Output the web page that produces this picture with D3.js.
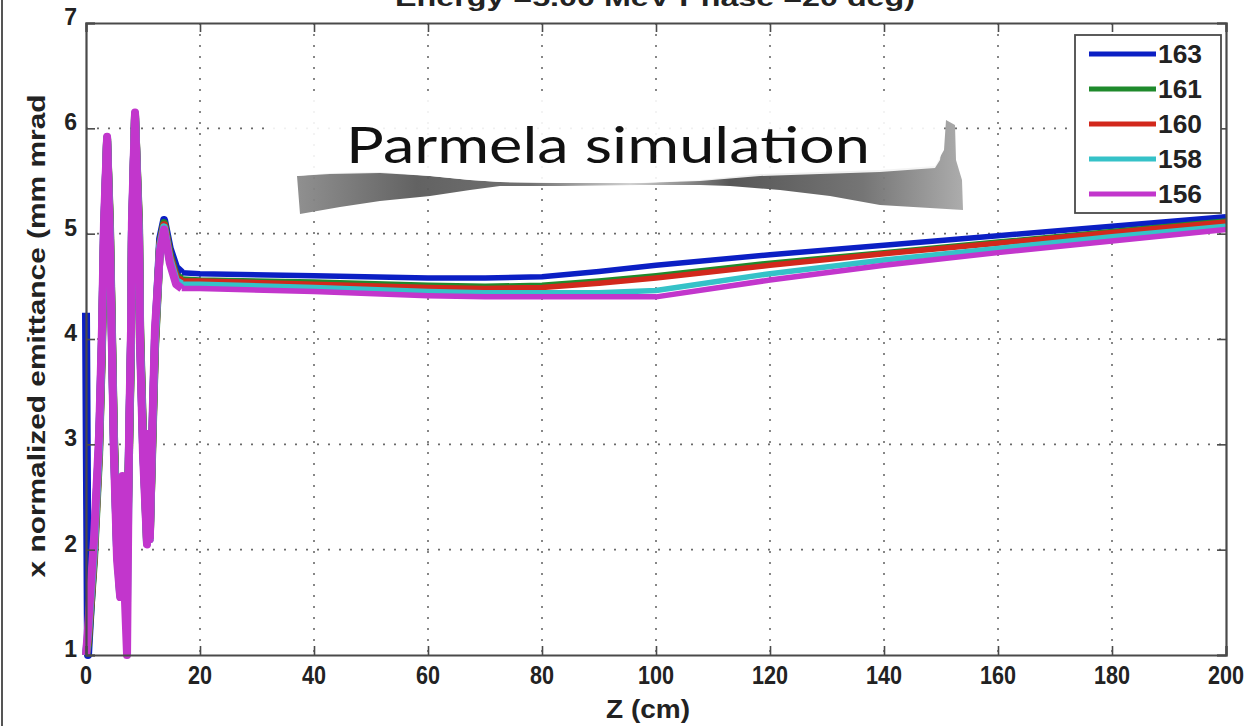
<!DOCTYPE html>
<html>
<head>
<meta charset="utf-8">
<script src="https://cdn.jsdelivr.net/npm/d3@7"></script>
<style>
  body { margin: 0; background: #fff; }
  svg { display: block; }
  .tick-lbl { font-family: "Liberation Sans Narrow", "Liberation Sans", sans-serif; font-weight: bold; fill: #222; }
</style>
</head>
<body>
<div id="chart"></div>
<script>
// Chart setup
var svgWidth = 1249;
var svgHeight = 726;

var margin = { top: 23, right: 23, bottom: 71, left: 86 };
var width = svgWidth - margin.left - margin.right;
var height = svgHeight - margin.top - margin.bottom;

// Data
var seriesNames = ["163", "161", "160", "158", "156"];
var seriesColors = ["#0b1fc4", "#1f8a2c", "#d2281c", "#35c2c8", "#c236cc"];

var xTicks = [0, 20, 40, 60, 80, 100, 120, 140, 160, 180, 200];
var yTicks = [1, 2, 3, 4, 5, 6, 7];

// z positions (cm) of the early oscillation and of the slow tail
var zEarly = [0, 0.35, 1.4, 2.3, 2.8, 3.15, 3.7, 4.2, 4.55, 4.9, 5.45, 6.0, 6.4, 6.85, 7.2, 7.55, 7.9, 8.05, 8.6, 9.3, 9.5, 10.0, 10.7, 10.95, 11.2, 11.6, 12.1, 13.0, 13.7, 14.7, 15.8, 16.8];
var zTail = [16.8, 20, 40, 60, 70, 80, 90, 100, 120, 140, 160, 180, 200];

var early163 = [4.25, 1.0, 2.0, 3.0, 4.0, 5.0, 5.88, 5.0, 4.0, 3.0, 2.0, 1.62, 2.6, 1.6, 2.0, 3.0, 4.0, 5.0, 6.1, 5.0, 4.0, 3.0, 2.15, 3.0, 2.2, 3.0, 4.0, 4.95, 5.13, 4.86, 4.68, 4.63];
var early161 = [1.0, 1.1, 1.9, 2.9, 3.9, 4.9, 5.9, 5.1, 4.1, 3.1, 2.1, 1.6, 2.5, 1.58, 1.9, 2.9, 3.9, 4.9, 6.12, 5.1, 4.1, 3.1, 2.1, 2.9, 2.15, 2.9, 3.9, 4.9, 5.1, 4.8, 4.6, 4.57];
var early160 = [1.0, 1.15, 1.95, 2.95, 3.95, 4.95, 5.9, 5.05, 4.05, 3.05, 2.05, 1.58, 2.4, 1.56, 1.95, 2.95, 3.95, 4.95, 6.13, 5.05, 4.05, 3.05, 2.08, 2.8, 2.12, 2.95, 3.95, 4.9, 5.08, 4.78, 4.58, 4.55];
var early158 = [1.0, 1.2, 2.0, 3.0, 4.0, 5.0, 5.91, 5.0, 4.0, 3.0, 2.0, 1.56, 2.3, 1.54, 1.5, 3.0, 4.0, 5.0, 6.14, 5.0, 4.0, 3.0, 2.06, 2.9, 2.1, 3.0, 4.0, 4.88, 5.06, 4.75, 4.55, 4.52];
var early156 = [1.0, 1.25, 2.1, 3.1, 4.1, 5.1, 5.92, 4.9, 3.9, 2.9, 1.9, 1.55, 2.7, 1.5, 1.0, 3.1, 4.1, 5.1, 6.15, 4.9, 3.9, 2.9, 2.05, 3.1, 2.1, 3.1, 4.1, 4.85, 5.04, 4.72, 4.52, 4.48];

var tail163 = [4.63, 4.62, 4.60, 4.58, 4.58, 4.59, 4.64, 4.70, 4.80, 4.89, 4.98, 5.07, 5.16];
var tail161 = [4.57, 4.56, 4.54, 4.51, 4.50, 4.51, 4.55, 4.60, 4.72, 4.82, 4.92, 5.02, 5.12];
var tail160 = [4.55, 4.55, 4.52, 4.49, 4.48, 4.49, 4.53, 4.58, 4.70, 4.81, 4.91, 5.01, 5.11];
var tail158 = [4.52, 4.52, 4.49, 4.45, 4.44, 4.44, 4.44, 4.46, 4.62, 4.75, 4.86, 4.97, 5.07];
var tail156 = [4.48, 4.48, 4.45, 4.41, 4.40, 4.40, 4.40, 4.40, 4.56, 4.70, 4.82, 4.93, 5.04];

var earlyValues = [early163, early161, early160, early158, early156];
var tailValues = [tail163, tail161, tail160, tail158, tail156];

var titleText = "Energy =5.00 MeV    Phase =20 deg)";

// Build the series table
var series = seriesNames.map(function(name, i) {
    return {
        name: name,
        color: seriesColors[i],
        early: zEarly.map(function(z, j) { return { z: z, v: earlyValues[i][j] }; }),
        tail: zTail.map(function(z, j) { return { z: z, v: tailValues[i][j] }; })
    };
});

var svg = d3.select("#chart")
    .append("svg")
    .attr("width", svgWidth)
    .attr("height", svgHeight);

// outer frame line on the left edge of the slide
svg.append("line")
    .attr("x1", 2).attr("x2", 2).attr("y1", 0).attr("y2", svgHeight)
    .attr("stroke", "#555").attr("stroke-width", 2);

// cut-off title
svg.append("text")
    .attr("x", 655).attr("y", 6)
    .attr("text-anchor", "middle")
    .attr("textLength", 520).attr("lengthAdjust", "spacingAndGlyphs")
    .attr("class", "tick-lbl")
    .style("font-size", "24px")
    .text(titleText);

var chartGroup = svg.append("g")
    .attr("transform", `translate(${margin.left}, ${margin.top})`);

var xScale = d3.scaleLinear().domain([0, 200]).range([0, width]);
var yScale = d3.scaleLinear().domain([1, 7]).range([height, 0]);

// plot background
chartGroup.append("rect")
    .attr("width", width).attr("height", height)
    .attr("fill", "#fff");

// dotted grid
chartGroup.append("g").selectAll("line")
    .data(xTicks.slice(1, -1))
    .enter().append("line")
    .attr("x1", d => xScale(d)).attr("x2", d => xScale(d))
    .attr("y1", 0).attr("y2", height)
    .attr("stroke", "#6a6a6a").attr("stroke-width", 1.6)
    .attr("stroke-dasharray", "2,9");

chartGroup.append("g").selectAll("line")
    .data(yTicks.slice(1, -1))
    .enter().append("line")
    .attr("x1", 0).attr("x2", width)
    .attr("y1", d => yScale(d)).attr("y2", d => yScale(d))
    .attr("stroke", "#6a6a6a").attr("stroke-width", 1.6)
    .attr("stroke-dasharray", "2,9");

// "Parmela simulation" pasted label (torn paper with shadow)
var defs = svg.append("defs");
var grad = defs.append("linearGradient").attr("id", "shadowGrad")
    .attr("x1", "0%").attr("x2", "100%").attr("y1", "0%").attr("y2", "0%");
grad.append("stop").attr("offset", "0%").attr("stop-color", "#8a8a8a");
grad.append("stop").attr("offset", "18%").attr("stop-color", "#5a5a5a");
grad.append("stop").attr("offset", "35%").attr("stop-color", "#6a6a6a");
grad.append("stop").attr("offset", "50%").attr("stop-color", "#cfcfcf");
grad.append("stop").attr("offset", "65%").attr("stop-color", "#4e4e4e");
grad.append("stop").attr("offset", "85%").attr("stop-color", "#6e6e6e");
grad.append("stop").attr("offset", "100%").attr("stop-color", "#a8a8a8");

var pasteG = svg.append("g");
pasteG.append("path")
    .attr("d", "M297,176 L330,173 L380,172 L430,176 L470,180 L500,182 L560,183 L640,183 L700,180 L760,174 L820,172 L880,170 L935,166 L944,150 L946,120 L955,125 L956,160 L962,180 L963,210 L930,208 L880,205 L830,196 L780,190 L730,186 L700,185 L640,185 L560,186 L500,186 L470,190 L430,196 L380,201 L340,207 L300,214 Z")
    .attr("fill", "url(#shadowGrad)")
    .attr("opacity", 0.95);
pasteG.append("path")
    .attr("d", "M268,102 L300,99 L360,97 L420,100 L480,96 L560,99 L640,96 L720,99 L800,96 L880,98 L940,100 L944,130 L940,160 L935,168 L880,172 L820,174 L760,176 L700,181 L640,183 L560,183 L500,182 L470,180 L430,176 L380,173 L330,174 L297,176 L280,168 L272,150 L266,120 Z")
    .attr("fill", "#fff")
    .attr("opacity", 0.9);
pasteG.append("text")
    .attr("x", 346).attr("y", 163)
    .attr("textLength", 524).attr("lengthAdjust", "spacingAndGlyphs")
    .style("font-family", "Lato, 'Open Sans', sans-serif")
    .style("font-size", "50px")
    .attr("fill", "#111")
    .text("Parmela simulation");

// series lines: the early oscillation is drawn as a heavy band
var line = d3.line()
    .x(d => xScale(d.z))
    .y(d => yScale(d.v));

var lines = chartGroup.append("g").selectAll("g")
    .data(series)
    .enter().append("g");

lines.append("path")
    .attr("d", d => line(d.tail))
    .attr("fill", "none")
    .attr("stroke", d => d.color)
    .attr("stroke-width", 5.5)
    .attr("stroke-linejoin", "round");

lines.append("path")
    .attr("d", d => line(d.early))
    .attr("fill", "none")
    .attr("stroke", d => d.color)
    .attr("stroke-width", 8)
    .attr("stroke-linejoin", "round");

// axes box with inward ticks on all sides
var bottomAxis = d3.axisBottom(xScale).tickValues(xTicks).tickSize(-9).tickFormat("");
var topAxis = d3.axisTop(xScale).tickValues(xTicks).tickSize(-9).tickFormat("");
var leftAxis = d3.axisLeft(yScale).tickValues(yTicks).tickSize(-9).tickFormat("");
var rightAxis = d3.axisRight(yScale).tickValues(yTicks).tickSize(-9).tickFormat("");

[
    [bottomAxis, `translate(0, ${height})`],
    [topAxis, "translate(0, 0)"],
    [leftAxis, "translate(0, 0)"],
    [rightAxis, `translate(${width}, 0)`]
].forEach(function(a) {
    var g = chartGroup.append("g").attr("transform", a[1]).call(a[0]);
    g.select(".domain").attr("stroke", "#4a4a4a").attr("stroke-width", 2.2);
    g.selectAll(".tick line").attr("stroke", "#4a4a4a").attr("stroke-width", 1.6);
});

// tick labels (condensed, like the original)
chartGroup.append("g").selectAll("text")
    .data(xTicks)
    .enter().append("text")
    .attr("class", "tick-lbl")
    .attr("x", d => xScale(d))
    .attr("y", height + 29)
    .attr("text-anchor", "middle")
    .attr("textLength", d => String(d).length * 12)
    .attr("lengthAdjust", "spacingAndGlyphs")
    .style("font-size", "25px")
    .text(d => d);

chartGroup.append("g").selectAll("text")
    .data(yTicks)
    .enter().append("text")
    .attr("class", "tick-lbl")
    .attr("x", -9)
    .attr("y", d => yScale(d) + 2)
    .attr("text-anchor", "end")
    .style("font-family", "'Liberation Sans', sans-serif")
    .style("font-size", "23px")
    .text(d => d);

// axis titles
svg.append("text")
    .attr("class", "tick-lbl")
    .attr("x", 648).attr("y", 718)
    .attr("text-anchor", "middle")
    .attr("textLength", 84).attr("lengthAdjust", "spacingAndGlyphs")
    .style("font-size", "26px")
    .text("Z (cm)");

svg.append("text")
    .attr("class", "tick-lbl")
    .attr("transform", "translate(45, 336) rotate(-90)")
    .attr("text-anchor", "middle")
    .attr("textLength", 483).attr("lengthAdjust", "spacingAndGlyphs")
    .style("font-family", "'Liberation Sans', sans-serif")
    .style("font-size", "24px")
    .text("x normalized emittance (mm mrad");

// legend
var legend = svg.append("g").attr("transform", "translate(1075, 35)");
legend.append("rect")
    .attr("width", 146).attr("height", 178)
    .attr("fill", "#fff")
    .attr("stroke", "#4a4a4a").attr("stroke-width", 1.8);

var items = legend.selectAll("g.item")
    .data(series)
    .enter().append("g")
    .attr("transform", (d, i) => `translate(0, ${19 + i * 35})`);

items.append("line")
    .attr("x1", 14).attr("x2", 81)
    .attr("stroke", d => d.color)
    .attr("stroke-width", 5);

items.append("text")
    .attr("class", "tick-lbl")
    .attr("x", 83).attr("y", 9)
    .attr("textLength", 44).attr("lengthAdjust", "spacingAndGlyphs")
    .style("font-size", "25px")
    .text(d => d.name);
</script>
</body>
</html>
